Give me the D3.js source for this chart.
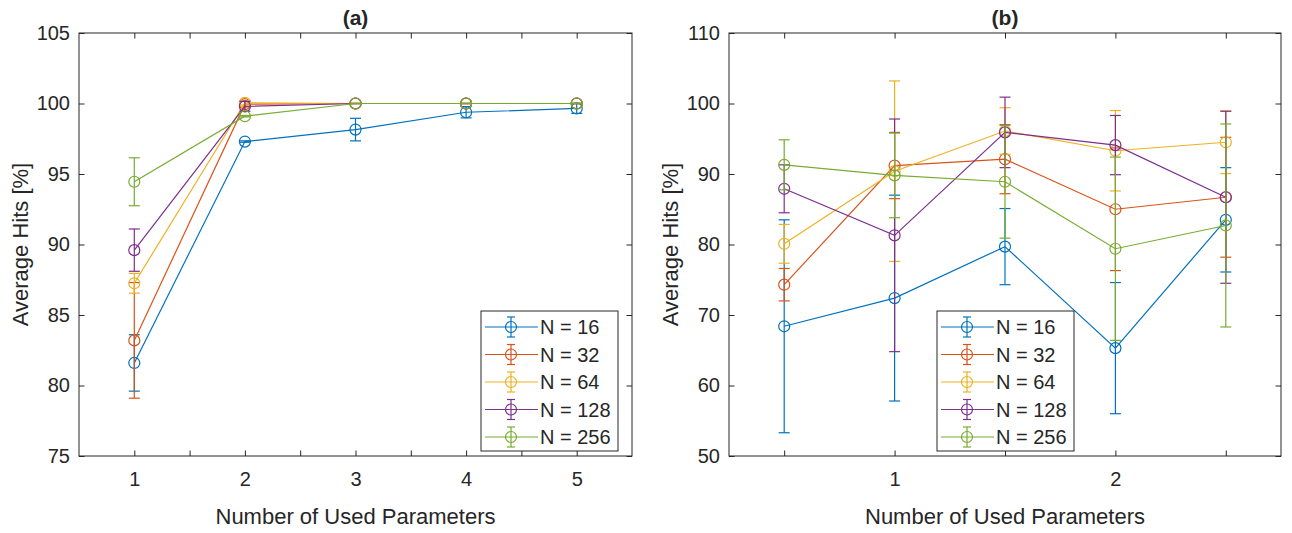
<!DOCTYPE html>
<meta charset="utf-8">
<style>
body { margin: 0; background: #fff; }
text { font-family: "Liberation Sans", Arial, sans-serif; fill: #262626; }
.axis path, .axis line { stroke: #262626; }
</style>
<body>
<svg width="1292" height="533"></svg>
<script src="https://d3js.org/d3.v7.min.js"></script>
<script>

// series names and colours (MATLAB default order)
var seriesNames = ["N = 16", "N = 32", "N = 64", "N = 128", "N = 256"];
var colors = ["#0072BD", "#D95319", "#EDB120", "#7E2F8E", "#77AC30"];

// panel (a)
var xA = [1, 2, 3, 4, 5];
var meanA16  = [81.6, 97.3, 98.15, 99.38, 99.65];
var meanA32  = [83.2, 99.95, 100, 100, 100];
var meanA64  = [87.25, 100.05, 100, 100, 100];
var meanA128 = [89.6, 99.8, 100, 100, 100];
var meanA256 = [94.45, 99.1, 100, 100, 100];
var errA16  = [2.0, 0.05, 0.8, 0.4, 0.35];
var errA32  = [4.1, 0.2, 0, 0, 0];
var errA64  = [0.7, 0.15, 0, 0, 0];
var errA128 = [1.5, 0.35, 0, 0, 0];
var errA256 = [1.7, 0.05, 0, 0, 0];
var xTicksA = [1, 1.5, 2, 2.5, 3, 3.5, 4, 4.5, 5];
var yTicksA = [75, 80, 85, 90, 95, 100, 105];

// panel (b)
var xB = [0.5, 1, 1.5, 2, 2.5];
var meanB16  = [68.4, 72.4, 79.7, 65.3, 83.5];
var meanB32  = [74.3, 91.2, 92.1, 85.0, 86.7];
var meanB64  = [80.1, 90.4, 96.1, 93.3, 94.5];
var meanB128 = [87.9, 81.3, 95.9, 94.1, 86.7];
var meanB256 = [91.3, 89.8, 88.9, 79.4, 82.7];
var errB16  = [15.1, 14.6, 5.4, 9.3, 7.4];
var errB32  = [2.3, 4.7, 4.9, 8.7, 8.5];
var errB64  = [2.75, 12.8, 3.3, 5.7, 4.45];
var errB128 = [3.4, 16.5, 5.0, 4.2, 12.2];
var errB256 = [3.55, 6.0, 8.0, 13.0, 14.4];
var xTicksB = [0.5, 1, 1.5, 2, 2.5];
var yTicksB = [50, 60, 70, 80, 90, 100, 110];

var svg = d3.select("svg");

var panels = [
  { title: "(a)", left: 79, right: 632, xDomain: [0.5, 5.5], yDomain: [75, 105],
    xs: xA, xTicks: xTicksA, yTicks: yTicksA,
    means: [meanA16, meanA32, meanA64, meanA128, meanA256],
    errs: [errA16, errA32, errA64, errA128, errA256],
    legend: { x: 481, y: 311 } },
  { title: "(b)", left: 729, right: 1281, xDomain: [0.25, 2.75], yDomain: [50, 110],
    xs: xB, xTicks: xTicksB, yTicks: yTicksB,
    means: [meanB16, meanB32, meanB64, meanB128, meanB256],
    errs: [errB16, errB32, errB64, errB128, errB256],
    legend: { x: 937, y: 311 } }
];

var plotTop = 33, plotBottom = 456, tickLen = 5.5, capW = 5.5, markerR = 5.5;

function tickFmt(d) { return Number.isInteger(d) ? d : ""; }

panels.forEach(function(p) {
  var x = d3.scaleLinear().domain(p.xDomain).range([p.left, p.right]);
  var y = d3.scaleLinear().domain(p.yDomain).range([plotBottom, plotTop]);
  var g = svg.append("g");

  // box
  g.append("rect")
      .attr("x", p.left).attr("y", plotTop)
      .attr("width", p.right - p.left).attr("height", plotBottom - plotTop)
      .attr("fill", "none").attr("stroke", "#262626").attr("stroke-width", 1);

  // axes with inward ticks on all four sides
  g.append("g").attr("class", "axis")
      .attr("transform", "translate(0," + plotBottom + ")")
      .call(d3.axisBottom(x).tickValues(p.xTicks).tickFormat(tickFmt)
        .tickSizeInner(-tickLen).tickSizeOuter(0).tickPadding(16))
      .call(function(s) { s.select(".domain").remove(); })
      .selectAll("text").attr("font-size", 20);

  g.append("g").attr("class", "axis")
      .attr("transform", "translate(0," + plotTop + ")")
      .call(d3.axisTop(x).tickValues(p.xTicks).tickFormat("")
        .tickSizeInner(-tickLen).tickSizeOuter(0))
      .call(function(s) { s.select(".domain").remove(); });

  g.append("g").attr("class", "axis")
      .attr("transform", "translate(" + p.left + ",0)")
      .call(d3.axisLeft(y).tickValues(p.yTicks)
        .tickSizeInner(-tickLen).tickSizeOuter(0).tickPadding(9))
      .call(function(s) { s.select(".domain").remove(); })
      .selectAll("text").attr("font-size", 20);

  g.append("g").attr("class", "axis")
      .attr("transform", "translate(" + p.right + ",0)")
      .call(d3.axisRight(y).tickValues(p.yTicks).tickFormat("")
        .tickSizeInner(-tickLen).tickSizeOuter(0))
      .call(function(s) { s.select(".domain").remove(); });

  g.selectAll(".axis").attr("font-family", null);

  // title and labels
  g.append("text")
      .attr("x", (p.left + p.right) / 2).attr("y", 25)
      .attr("text-anchor", "middle").attr("font-size", 21).attr("font-weight", "bold")
      .text(p.title);

  g.append("text")
      .attr("x", (p.left + p.right) / 2).attr("y", 524)
      .attr("text-anchor", "middle").attr("font-size", 22)
      .text("Number of Used Parameters");

  g.append("text")
      .attr("transform", "translate(" + (p.left - 51) + "," + ((plotTop + plotBottom) / 2) + ") rotate(-90)")
      .attr("text-anchor", "middle").attr("font-size", 22)
      .text("Average Hits [%]");

  // series
  var line = d3.line().x(function(d) { return x(d.x); }).y(function(d) { return y(d.m); });

  p.means.forEach(function(ms, i) {
    var pts = p.xs.map(function(xv, j) { return { x: xv, m: ms[j], e: p.errs[i][j] }; });
    var sg = g.append("g").attr("stroke", colors[i]).attr("fill", "none").attr("stroke-width", 1.2);

    sg.append("path").attr("d", line(pts));

    var eb = sg.selectAll(".eb").data(pts).enter().append("g");
    eb.append("line")
        .attr("x1", function(d) { return x(d.x); }).attr("x2", function(d) { return x(d.x); })
        .attr("y1", function(d) { return y(d.m - d.e); }).attr("y2", function(d) { return y(d.m + d.e); });
    eb.append("line")
        .attr("x1", function(d) { return x(d.x) - capW; }).attr("x2", function(d) { return x(d.x) + capW; })
        .attr("y1", function(d) { return y(d.m - d.e); }).attr("y2", function(d) { return y(d.m - d.e); });
    eb.append("line")
        .attr("x1", function(d) { return x(d.x) - capW; }).attr("x2", function(d) { return x(d.x) + capW; })
        .attr("y1", function(d) { return y(d.m + d.e); }).attr("y2", function(d) { return y(d.m + d.e); });

    sg.selectAll("circle").data(pts).enter().append("circle")
        .attr("cx", function(d) { return x(d.x); })
        .attr("cy", function(d) { return y(d.m); })
        .attr("r", markerR);
  });

  // legend
  var lg = g.append("g").attr("transform", "translate(" + p.legend.x + "," + p.legend.y + ")");
  lg.append("rect")
      .attr("width", 137).attr("height", 140)
      .attr("fill", "#fff").attr("stroke", "#262626").attr("stroke-width", 1);

  seriesNames.forEach(function(name, i) {
    var cy = 16 + i * 27.5;
    var row = lg.append("g").attr("stroke", colors[i]).attr("fill", "none").attr("stroke-width", 1.2);
    row.append("line").attr("x1", 4).attr("x2", 57).attr("y1", cy).attr("y2", cy);
    row.append("line").attr("x1", 30).attr("x2", 30).attr("y1", cy - 10).attr("y2", cy + 10);
    row.append("line").attr("x1", 26).attr("x2", 34).attr("y1", cy - 10).attr("y2", cy - 10);
    row.append("line").attr("x1", 26).attr("x2", 34).attr("y1", cy + 10).attr("y2", cy + 10);
    row.append("circle").attr("cx", 30).attr("cy", cy).attr("r", markerR);
    lg.append("text")
        .attr("x", 59).attr("y", cy + 7)
        .attr("font-size", 20)
        .text(name);
  });
});

</script>
</body>
